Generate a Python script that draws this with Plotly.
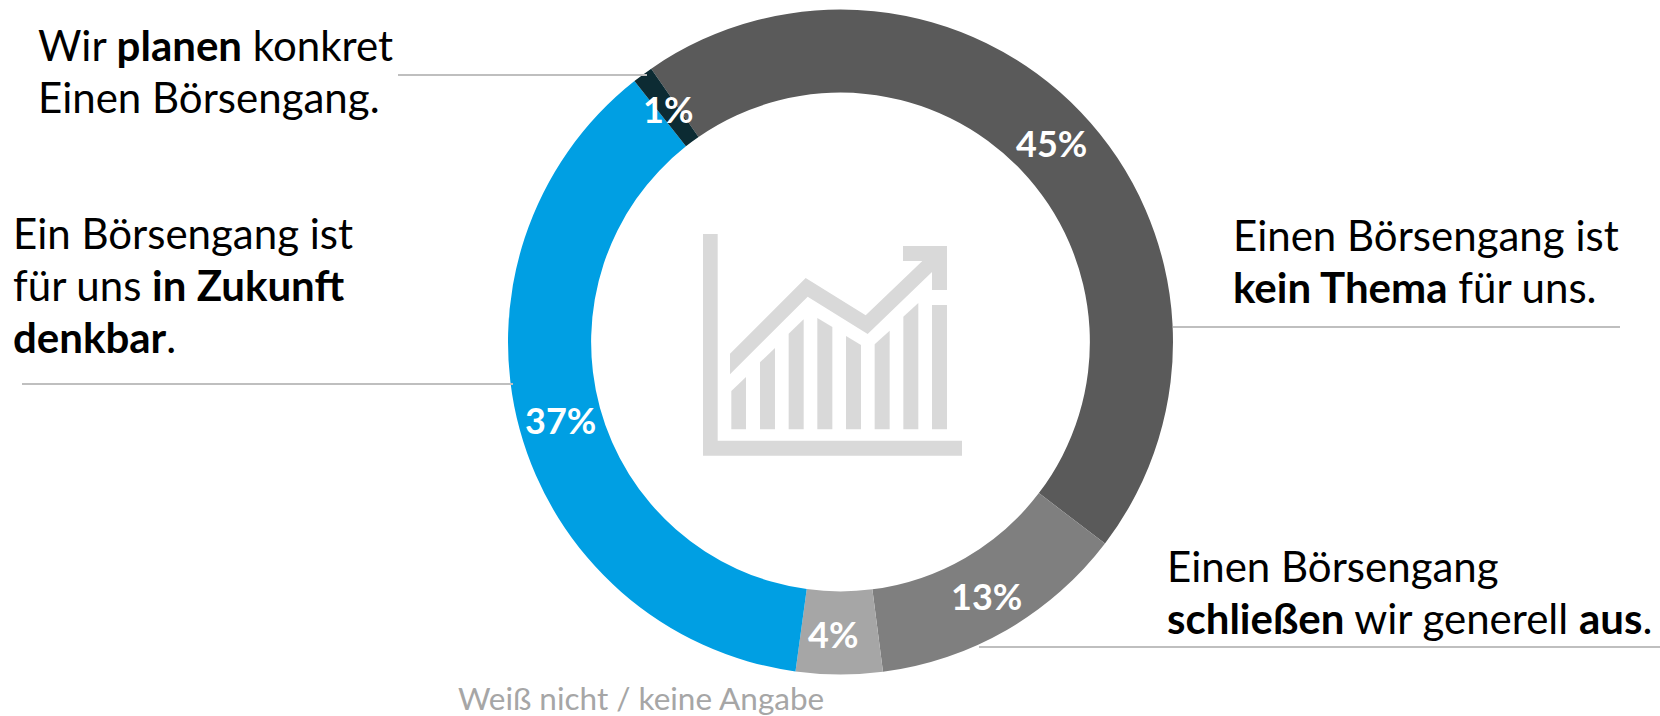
import plotly.graph_objects as go

W, H = 1660, 716
FONT = "Lato"

categories = ["Einen Börsengang ist kein Thema für uns.",
              "Einen Börsengang schließen wir generell aus.",
              "Weiß nicht / keine Angabe",
              "Ein Börsengang ist für uns in Zukunft denkbar.",
              "Wir planen konkret einen Börsengang."]
values = [45, 12.6, 4.2, 37.2, 1]
pct_labels = ["45%", "13%", "4%", "37%", "1%"]
colors = ["#5a5a5a", "#7f7f7f", "#a6a6a6", "#009fe3", "#0c2b33"]
pct_pos = [(1051, 143), (986, 596), (833, 634), (560, 420), (668, 109)]

label_blocks = [
    (38, 45, ["Wir <b>planen</b> konkret", "Einen Börsengang."]),
    (13, 233, ["Ein Börsengang ist", "für uns <b>in Zukunft</b>", "<b>denkbar</b>."]),
    (1233, 235, ["Einen Börsengang ist", "<b>kein Thema</b> für uns."]),
    (1167, 566, ["Einen Börsengang", "<b>schließen</b> wir generell <b>aus</b>."]),
]
LINE_PITCH = 52

CX, CY, R = 840.5, 342.0, 332.5


def px(x):
    return x / W


def py(y):
    return 1 - y / H


fig = go.Figure(go.Pie(
    labels=categories, values=values, sort=False, direction="clockwise",
    rotation=325.3, hole=0.75, textinfo="none", hoverinfo="label",
    marker=dict(colors=colors, line=dict(width=0)),
    domain=dict(x=[px(CX - R), px(CX + R)], y=[py(CY + R), py(CY - R)]),
    showlegend=False,
))

# icon polygons, in pixels relative to a 3x crop at (640, 200)
icon = [
    [(189, 102), (233, 102), (233, 722), (966, 722), (966, 767), (189, 767)],
    [(274, 573), (318, 531), (318, 688), (274, 688)],
    [(360, 487), (405, 444), (405, 688), (360, 688)],
    [(446, 401), (491, 358), (491, 688), (446, 688)],
    [(532, 354), (577, 381), (577, 688), (532, 688)],
    [(618, 408), (663, 435), (663, 688), (618, 688)],
    [(704, 433), (749, 392), (749, 688), (704, 688)],
    [(790, 350), (835, 309), (835, 688), (790, 688)],
    [(876, 315), (921, 315), (921, 688), (876, 688)],
    [(270, 461), (497, 234), (677, 346), (847, 183), (789, 183), (789, 138),
     (921, 138), (921, 270), (876, 270), (876, 216), (683, 402), (503, 290), (270, 523)],
]
shapes = []
for poly in icon:
    d = "M " + " L ".join(f"{px(640 + x / 3):.5f} {py(200 + y / 3):.5f}" for x, y in poly) + " Z"
    shapes.append(dict(type="path", path=d, xref="paper", yref="paper",
                       fillcolor="#d9d9d9", line=dict(width=0), layer="above"))

leaders = [(398, 647, 75), (1173, 1620, 327), (979, 1660, 647), (22, 513, 384)]
for x0, x1, y in leaders:
    shapes.append(dict(type="line", xref="paper", yref="paper", x0=px(x0), x1=px(x1),
                       y0=py(y), y1=py(y), line=dict(color="#bfbfbf", width=2), layer="above"))

annotations = []


def note(x, y, text, size, color, anchor="left", align="left"):
    annotations.append(dict(x=px(x), y=py(y), xref="paper", yref="paper", text=text,
                            showarrow=False, xanchor=anchor, yanchor="middle", align=align,
                            font=dict(family=FONT, size=size, color=color),
                            borderpad=0, borderwidth=0))


for label, (x, y) in zip(pct_labels, pct_pos):
    note(x, y, f"<b>{label}</b>", 36, "#ffffff", anchor="center", align="center")

for x, y0, lines in label_blocks:
    for i, line in enumerate(lines):
        note(x, y0 + i * LINE_PITCH, line, 42, "#000000")

note(640.5, 698, "Weiß nicht / keine Angabe", 31.5, "#a6a6a6", anchor="center", align="center")

fig.update_layout(width=W, height=H, margin=dict(l=0, r=0, t=0, b=0),
                  paper_bgcolor="#ffffff", plot_bgcolor="#ffffff",
                  shapes=shapes, annotations=annotations)
fig.write_html("out.html", post_script="document.body.style.margin='0';",
               config=dict(displayModeBar=False))
